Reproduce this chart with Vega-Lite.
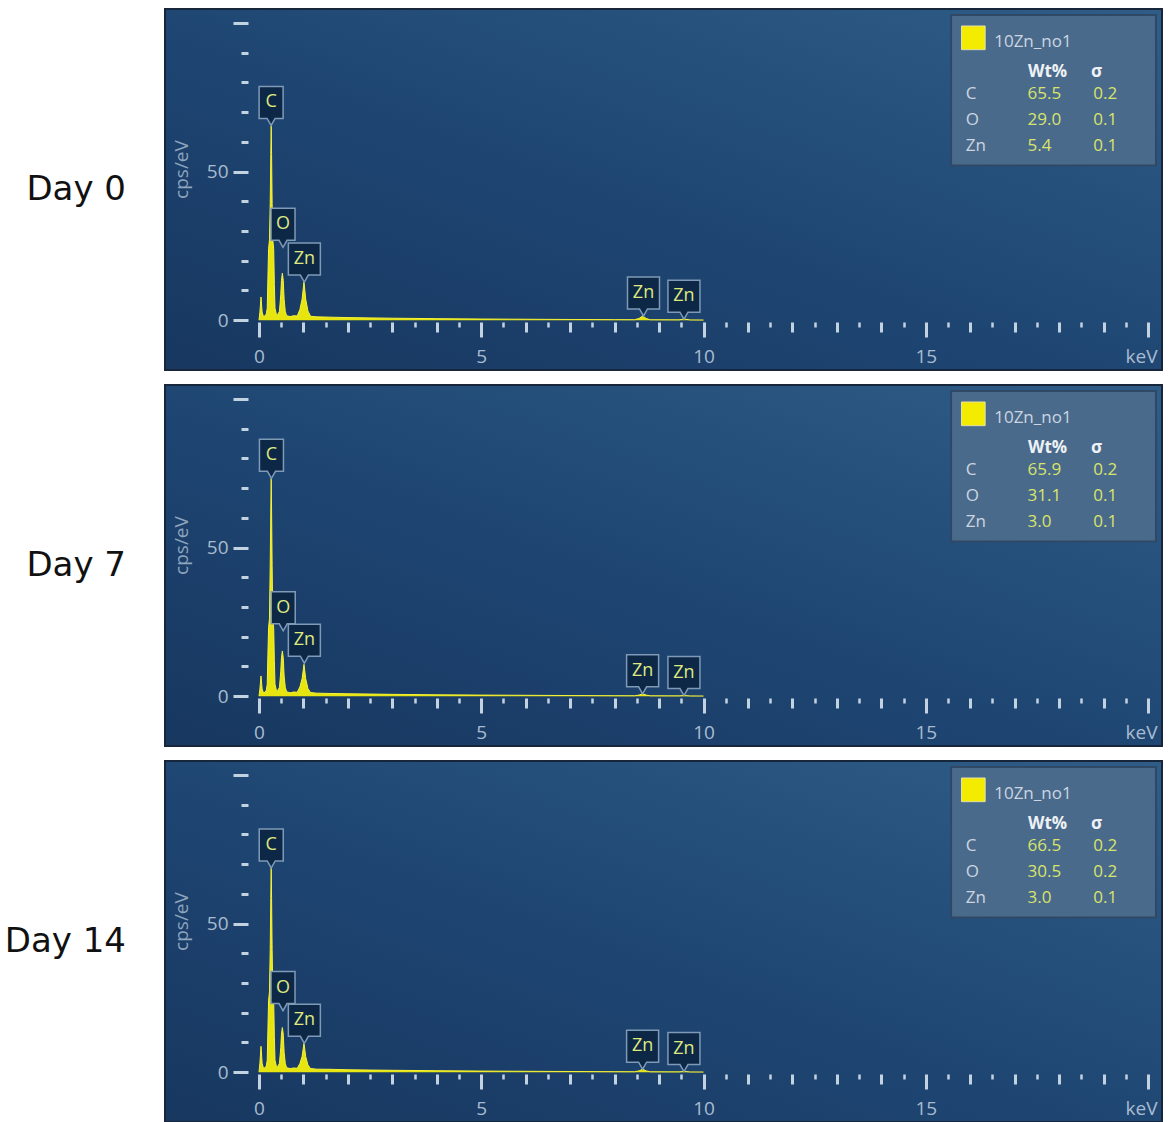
{
  "$schema": "https://vega.github.io/schema/vega-lite/v6.json",
  "background": "white",
  "padding": {"left": 4, "top": 8, "right": 4, "bottom": 0},
  "data": {"values": [
    {"k":"leg","day":"Day 0","sample":"10Zn_no1"},
    {"k":"leg","day":"Day 7","sample":"10Zn_no1"},
    {"k":"leg","day":"Day 14","sample":"10Zn_no1"},
    {"k":"t","day":"Day 0","el":"C","wt":65.5,"sg":0.2},
    {"k":"t","day":"Day 0","el":"O","wt":29.0,"sg":0.1},
    {"k":"t","day":"Day 0","el":"Zn","wt":5.4,"sg":0.1},
    {"k":"t","day":"Day 7","el":"C","wt":65.9,"sg":0.2},
    {"k":"t","day":"Day 7","el":"O","wt":31.1,"sg":0.1},
    {"k":"t","day":"Day 7","el":"Zn","wt":3.0,"sg":0.1},
    {"k":"t","day":"Day 14","el":"C","wt":66.5,"sg":0.2},
    {"k":"t","day":"Day 14","el":"O","wt":30.5,"sg":0.2},
    {"k":"t","day":"Day 14","el":"Zn","wt":3.0,"sg":0.1},
    {"k":"p","day":"Day 0","el":"C","e":0.272,"c":65.5},
    {"k":"p","day":"Day 0","el":"O","e":0.54,"c":24.5},
    {"k":"p","day":"Day 0","el":"Zn","e":1.02,"c":12.8},
    {"k":"p","day":"Day 0","el":"Zn","e":8.65,"c":1.4},
    {"k":"p","day":"Day 0","el":"Zn","e":9.56,"c":0.3},
    {"k":"p","day":"Day 7","el":"C","e":0.28,"c":73.3},
    {"k":"p","day":"Day 7","el":"O","e":0.545,"c":22},
    {"k":"p","day":"Day 7","el":"Zn","e":1.02,"c":11.1},
    {"k":"p","day":"Day 7","el":"Zn","e":8.63,"c":0.8},
    {"k":"p","day":"Day 7","el":"Zn","e":9.56,"c":0.2},
    {"k":"p","day":"Day 14","el":"C","e":0.275,"c":68.7},
    {"k":"p","day":"Day 14","el":"O","e":0.54,"c":20.7},
    {"k":"p","day":"Day 14","el":"Zn","e":1.02,"c":9.7},
    {"k":"p","day":"Day 14","el":"Zn","e":8.63,"c":1.0},
    {"k":"p","day":"Day 14","el":"Zn","e":9.56,"c":0.2},
    {"k":"s","day":"Day 0","e":0,"c":0},{"k":"s","day":"Day 0","e":0.02,"c":2.7},{"k":"s","day":"Day 0","e":0.045,"c":7.8},{"k":"s","day":"Day 0","e":0.07,"c":2.7},{"k":"s","day":"Day 0","e":0.1,"c":1.2},{"k":"s","day":"Day 0","e":0.14,"c":1.5},{"k":"s","day":"Day 0","e":0.165,"c":2.2},{"k":"s","day":"Day 0","e":0.185,"c":4},{"k":"s","day":"Day 0","e":0.2,"c":14},{"k":"s","day":"Day 0","e":0.215,"c":24},{"k":"s","day":"Day 0","e":0.235,"c":27},{"k":"s","day":"Day 0","e":0.252,"c":39.3},{"k":"s","day":"Day 0","e":0.265,"c":55.7},{"k":"s","day":"Day 0","e":0.274,"c":65.5},{"k":"s","day":"Day 0","e":0.283,"c":55.7},{"k":"s","day":"Day 0","e":0.295,"c":39.3},{"k":"s","day":"Day 0","e":0.31,"c":27},{"k":"s","day":"Day 0","e":0.33,"c":24},{"k":"s","day":"Day 0","e":0.345,"c":12},{"k":"s","day":"Day 0","e":0.36,"c":4},{"k":"s","day":"Day 0","e":0.39,"c":2},{"k":"s","day":"Day 0","e":0.42,"c":1.8},{"k":"s","day":"Day 0","e":0.46,"c":3},{"k":"s","day":"Day 0","e":0.49,"c":8.7},{"k":"s","day":"Day 0","e":0.505,"c":13.4},{"k":"s","day":"Day 0","e":0.525,"c":15.8},{"k":"s","day":"Day 0","e":0.545,"c":13.4},{"k":"s","day":"Day 0","e":0.565,"c":7},{"k":"s","day":"Day 0","e":0.59,"c":3},{"k":"s","day":"Day 0","e":0.62,"c":1.5},{"k":"s","day":"Day 0","e":0.7,"c":1.2},{"k":"s","day":"Day 0","e":0.78,"c":1.5},{"k":"s","day":"Day 0","e":0.86,"c":1.4},{"k":"s","day":"Day 0","e":0.92,"c":3.6},{"k":"s","day":"Day 0","e":0.97,"c":7.1},{"k":"s","day":"Day 0","e":1.012,"c":12.9},{"k":"s","day":"Day 0","e":1.05,"c":7.1},{"k":"s","day":"Day 0","e":1.1,"c":3.1},{"k":"s","day":"Day 0","e":1.16,"c":1.3},{"k":"s","day":"Day 0","e":1.3,"c":1.1},{"k":"s","day":"Day 0","e":1.6,"c":1.0},{"k":"s","day":"Day 0","e":2,"c":0.85},{"k":"s","day":"Day 0","e":2.5,"c":0.75},{"k":"s","day":"Day 0","e":3,"c":0.65},{"k":"s","day":"Day 0","e":4,"c":0.5},{"k":"s","day":"Day 0","e":5,"c":0.38},{"k":"s","day":"Day 0","e":6,"c":0.3},{"k":"s","day":"Day 0","e":7,"c":0.22},{"k":"s","day":"Day 0","e":8,"c":0.17},{"k":"s","day":"Day 0","e":8.45,"c":0.15},{"k":"s","day":"Day 0","e":8.55,"c":0.56},{"k":"s","day":"Day 0","e":8.63,"c":1.4},{"k":"s","day":"Day 0","e":8.71,"c":0.56},{"k":"s","day":"Day 0","e":8.8,"c":0.13},{"k":"s","day":"Day 0","e":9.45,"c":0.1},{"k":"s","day":"Day 0","e":9.57,"c":0.35},{"k":"s","day":"Day 0","e":9.7,"c":0.08},{"k":"s","day":"Day 0","e":10,"c":0.05},
    {"k":"s","day":"Day 7","e":0,"c":0},{"k":"s","day":"Day 7","e":0.02,"c":2.4},{"k":"s","day":"Day 7","e":0.045,"c":6.8},{"k":"s","day":"Day 7","e":0.07,"c":2.4},{"k":"s","day":"Day 7","e":0.1,"c":1.1},{"k":"s","day":"Day 7","e":0.14,"c":1.4},{"k":"s","day":"Day 7","e":0.165,"c":2.0},{"k":"s","day":"Day 7","e":0.185,"c":4},{"k":"s","day":"Day 7","e":0.2,"c":14},{"k":"s","day":"Day 7","e":0.215,"c":23},{"k":"s","day":"Day 7","e":0.235,"c":26},{"k":"s","day":"Day 7","e":0.252,"c":44},{"k":"s","day":"Day 7","e":0.265,"c":62.3},{"k":"s","day":"Day 7","e":0.274,"c":73.3},{"k":"s","day":"Day 7","e":0.283,"c":62.3},{"k":"s","day":"Day 7","e":0.295,"c":44},{"k":"s","day":"Day 7","e":0.31,"c":26},{"k":"s","day":"Day 7","e":0.33,"c":23},{"k":"s","day":"Day 7","e":0.345,"c":12},{"k":"s","day":"Day 7","e":0.36,"c":4},{"k":"s","day":"Day 7","e":0.39,"c":2},{"k":"s","day":"Day 7","e":0.42,"c":1.8},{"k":"s","day":"Day 7","e":0.46,"c":3},{"k":"s","day":"Day 7","e":0.49,"c":8.4},{"k":"s","day":"Day 7","e":0.505,"c":12.9},{"k":"s","day":"Day 7","e":0.525,"c":15.2},{"k":"s","day":"Day 7","e":0.545,"c":12.9},{"k":"s","day":"Day 7","e":0.565,"c":6.8},{"k":"s","day":"Day 7","e":0.59,"c":3},{"k":"s","day":"Day 7","e":0.62,"c":1.5},{"k":"s","day":"Day 7","e":0.7,"c":1.1},{"k":"s","day":"Day 7","e":0.78,"c":1.4},{"k":"s","day":"Day 7","e":0.86,"c":1.3},{"k":"s","day":"Day 7","e":0.92,"c":3.1},{"k":"s","day":"Day 7","e":0.97,"c":5.9},{"k":"s","day":"Day 7","e":1.012,"c":10.7},{"k":"s","day":"Day 7","e":1.05,"c":5.9},{"k":"s","day":"Day 7","e":1.1,"c":2.6},{"k":"s","day":"Day 7","e":1.16,"c":1.2},{"k":"s","day":"Day 7","e":1.3,"c":1.0},{"k":"s","day":"Day 7","e":1.6,"c":0.9},{"k":"s","day":"Day 7","e":2,"c":0.8},{"k":"s","day":"Day 7","e":2.5,"c":0.7},{"k":"s","day":"Day 7","e":3,"c":0.6},{"k":"s","day":"Day 7","e":4,"c":0.45},{"k":"s","day":"Day 7","e":5,"c":0.35},{"k":"s","day":"Day 7","e":6,"c":0.28},{"k":"s","day":"Day 7","e":7,"c":0.2},{"k":"s","day":"Day 7","e":8,"c":0.15},{"k":"s","day":"Day 7","e":8.45,"c":0.13},{"k":"s","day":"Day 7","e":8.55,"c":0.35},{"k":"s","day":"Day 7","e":8.63,"c":0.8},{"k":"s","day":"Day 7","e":8.71,"c":0.35},{"k":"s","day":"Day 7","e":8.8,"c":0.12},{"k":"s","day":"Day 7","e":9.45,"c":0.09},{"k":"s","day":"Day 7","e":9.57,"c":0.2},{"k":"s","day":"Day 7","e":9.7,"c":0.07},{"k":"s","day":"Day 7","e":10,"c":0.05},
    {"k":"s","day":"Day 14","e":0,"c":0},{"k":"s","day":"Day 14","e":0.02,"c":3},{"k":"s","day":"Day 14","e":0.045,"c":8.7},{"k":"s","day":"Day 14","e":0.07,"c":3},{"k":"s","day":"Day 14","e":0.1,"c":1.3},{"k":"s","day":"Day 14","e":0.14,"c":1.5},{"k":"s","day":"Day 14","e":0.165,"c":2.2},{"k":"s","day":"Day 14","e":0.185,"c":4},{"k":"s","day":"Day 14","e":0.2,"c":14},{"k":"s","day":"Day 14","e":0.215,"c":24},{"k":"s","day":"Day 14","e":0.235,"c":27},{"k":"s","day":"Day 14","e":0.252,"c":41.3},{"k":"s","day":"Day 14","e":0.265,"c":58.5},{"k":"s","day":"Day 14","e":0.274,"c":68.8},{"k":"s","day":"Day 14","e":0.283,"c":58.5},{"k":"s","day":"Day 14","e":0.295,"c":41.3},{"k":"s","day":"Day 14","e":0.31,"c":27},{"k":"s","day":"Day 14","e":0.33,"c":24},{"k":"s","day":"Day 14","e":0.345,"c":12},{"k":"s","day":"Day 14","e":0.36,"c":4},{"k":"s","day":"Day 14","e":0.39,"c":2},{"k":"s","day":"Day 14","e":0.42,"c":1.8},{"k":"s","day":"Day 14","e":0.46,"c":3},{"k":"s","day":"Day 14","e":0.49,"c":8.3},{"k":"s","day":"Day 14","e":0.505,"c":12.8},{"k":"s","day":"Day 14","e":0.525,"c":15},{"k":"s","day":"Day 14","e":0.545,"c":12.8},{"k":"s","day":"Day 14","e":0.565,"c":6.7},{"k":"s","day":"Day 14","e":0.59,"c":3},{"k":"s","day":"Day 14","e":0.62,"c":1.5},{"k":"s","day":"Day 14","e":0.7,"c":1.2},{"k":"s","day":"Day 14","e":0.78,"c":1.4},{"k":"s","day":"Day 14","e":0.86,"c":1.3},{"k":"s","day":"Day 14","e":0.92,"c":2.9},{"k":"s","day":"Day 14","e":0.97,"c":5.3},{"k":"s","day":"Day 14","e":1.012,"c":9.7},{"k":"s","day":"Day 14","e":1.05,"c":5.3},{"k":"s","day":"Day 14","e":1.1,"c":2.4},{"k":"s","day":"Day 14","e":1.16,"c":1.2},{"k":"s","day":"Day 14","e":1.3,"c":1.0},{"k":"s","day":"Day 14","e":1.6,"c":0.95},{"k":"s","day":"Day 14","e":2,"c":0.8},{"k":"s","day":"Day 14","e":2.5,"c":0.7},{"k":"s","day":"Day 14","e":3,"c":0.62},{"k":"s","day":"Day 14","e":4,"c":0.48},{"k":"s","day":"Day 14","e":5,"c":0.36},{"k":"s","day":"Day 14","e":6,"c":0.28},{"k":"s","day":"Day 14","e":7,"c":0.21},{"k":"s","day":"Day 14","e":8,"c":0.16},{"k":"s","day":"Day 14","e":8.45,"c":0.14},{"k":"s","day":"Day 14","e":8.55,"c":0.42},{"k":"s","day":"Day 14","e":8.63,"c":1.0},{"k":"s","day":"Day 14","e":8.71,"c":0.42},{"k":"s","day":"Day 14","e":8.8,"c":0.12},{"k":"s","day":"Day 14","e":9.45,"c":0.09},{"k":"s","day":"Day 14","e":9.57,"c":0.25},{"k":"s","day":"Day 14","e":9.7,"c":0.07},{"k":"s","day":"Day 14","e":10,"c":0.05}
  ]},
  "facet": {
    "row": {
      "field": "day", "type": "nominal", "sort": ["Day 0", "Day 7", "Day 14"], "title": null,
      "header": {"labelAngle": 0, "labelAlign": "left", "labelBaseline": "middle", "labelFont": "DejaVu Sans", "labelFontSize": 34, "labelColor": "#111111", "labelPadding": 38}
    }
  },
  "spacing": {"row": 13},
  "resolve": {"axis": {"x": "independent", "y": "independent"}},
  "spec": {
    "width": 997,
    "height": 361,
    "resolve": {"scale": {"y": "independent"}},
    "layer": [
      {
        "layer": [
          {
            "transform": [{"filter": "datum.k === 'leg'"}],
            "mark": {"type": "rect", "fill": "#4a6a8b", "stroke": "#2e4866", "strokeWidth": 2},
            "encoding": {
              "x": {"datum": 15.57}, "x2": {"datum": 20.18},
              "y": {"datum": 102.7}, "y2": {"datum": 52.0}
            }
          },
          {
            "transform": [{"filter": "datum.k === 's'"}],
            "mark": {"type": "area", "color": "#f2ee0c", "opacity": 0.95, "interpolate": "linear", "line": {"color": "#f6f23a", "strokeWidth": 1}},
            "encoding": {
              "x": {
                "field": "e", "type": "quantitative",
                "scale": {"domain": [-2.115, 20.315], "nice": false, "zero": false},
                "axis": {
                  "values": [0,0.5,1,1.5,2,2.5,3,3.5,4,4.5,5,5.5,6,6.5,7,7.5,8,8.5,9,9.5,10,10.5,11,11.5,12,12.5,13,13.5,14,14.5,15,15.5,16,16.5,17,17.5,18,18.5,19,19.5,20],
                  "tickCount": 200,
                  "offset": -48, "domain": false, "grid": false, "title": null,
                  "tickColor": "#c3d2e1",
                  "tickSize": {"condition": [{"test": "datum.value % 5 === 0", "value": 15}, {"test": "datum.value % 1 === 0", "value": 10}], "value": 5},
                  "tickWidth": {"condition": {"test": "datum.value % 1 === 0", "value": 3}, "value": 2.5},
                  "labelExpr": "datum.value === 20 ? 'keV' : (datum.value % 5 === 0 ? format(datum.value, 'd') : '')",
                  "labelOffset": {"condition": {"test": "datum.value === 20", "value": -7}, "value": 0},
                  "labelPadding": 10, "labelFontSize": 19, "labelFont": "Open Sans", "labelColor": "#a9bccf",
                  "labelFlush": false, "labelOverlap": false, "labelBound": false
                }
              },
              "y": {
                "field": "c", "type": "quantitative",
                "scale": {"domain": [-16.78, 104.7], "nice": false, "zero": false},
                "axis": {
                  "values": [0,10,20,30,40,50,60,70,80,90,100],
                  "tickCount": 200,
                  "offset": -83, "domain": false, "grid": false,
                  "tickColor": "#c3d2e1",
                  "tickSize": {"condition": {"test": "datum.value % 50 === 0", "value": 15}, "value": 7},
                  "tickWidth": 3,
                  "labelExpr": "datum.value === 0 || datum.value === 50 ? format(datum.value, 'd') : ''",
                  "labelPadding": 5, "labelFontSize": 19, "labelFont": "Open Sans", "labelColor": "#a9bccf",
                  "labelFlush": false, "labelOverlap": false, "labelBound": false,
                  "title": "cps/eV", "titleFont": "Open Sans", "titleFontSize": 19, "titleFontWeight": "normal",
                  "titleColor": "#8ea5bd", "titleX": -57, "titleY": 160, "titleAngle": -90, "titleBaseline": "bottom", "titleAlign": "center"
                }
              },
              "y2": {"datum": 0}
            }
          },
          {
            "transform": [{"filter": "datum.k === 'p'"}],
            "mark": {"type": "point", "filled": true, "fill": "#0d2747", "stroke": "#7f9ab6", "strokeWidth": 1.5, "opacity": 1, "size": 4},
            "encoding": {
              "x": {"field": "e", "type": "quantitative"},
              "y": {"field": "c", "type": "quantitative"},
              "shape": {"field": "el", "type": "nominal", "legend": null,
                "scale": {"domain": ["C", "O", "Zn"], "range": ["M-12,-39H12V-7H4L0,0L-4,-7H-12Z", "M-12,-39H12V-7H4L0,0L-4,-7H-12Z", "M-16,-39H16V-7H4L0,0L-4,-7H-16Z"]}}
            }
          },
          {
            "transform": [{"filter": "datum.k === 'p'"}],
            "mark": {"type": "text", "dy": -23, "font": "Open Sans", "fontSize": 18, "color": "#dfe97e", "baseline": "middle", "align": "center"},
            "encoding": {
              "x": {"field": "e", "type": "quantitative"},
              "y": {"field": "c", "type": "quantitative"},
              "text": {"field": "el"}
            }
          },
          {
            "transform": [{"filter": "datum.k === 'leg'"}],
            "mark": {"type": "point", "shape": "square", "filled": true, "fill": "#f4ec00", "stroke": "#e2e2a8", "strokeWidth": 1, "opacity": 1, "size": 560},
            "encoding": {"x": {"datum": 16.07}, "y": {"datum": 95.0}}
          },
          {
            "transform": [{"filter": "datum.k === 'leg'"}],
            "mark": {"type": "text", "font": "Open Sans", "fontSize": 17, "color": "#cbd6e1", "align": "left", "baseline": "middle"},
            "encoding": {"x": {"datum": 16.54}, "y": {"datum": 93.6}, "text": {"field": "sample"}}
          },
          {
            "transform": [{"filter": "datum.k === 'leg'"}],
            "mark": {"type": "text", "font": "Open Sans", "fontSize": 17, "fontWeight": "bold", "color": "#eef2f6", "align": "left", "baseline": "middle"},
            "encoding": {"x": {"datum": 17.3}, "y": {"datum": 83.6}, "text": {"value": "Wt%"}}
          },
          {
            "transform": [{"filter": "datum.k === 'leg'"}],
            "mark": {"type": "text", "font": "Open Sans", "fontSize": 17, "fontWeight": "bold", "color": "#eef2f6", "align": "left", "baseline": "middle"},
            "encoding": {"x": {"datum": 18.72}, "y": {"datum": 83.6}, "text": {"value": "σ"}}
          }
        ]
      },
      {
        "transform": [{"filter": "datum.k === 't'"}],
        "encoding": {
          "y": {"field": "el", "type": "nominal", "axis": null,
            "scale": {"type": "point", "domain": ["C", "O", "Zn"], "range": [85, 137], "padding": 0}}
        },
        "layer": [
          {
            "mark": {"type": "text", "font": "Open Sans", "fontSize": 17, "color": "#cbd6e1", "align": "left", "baseline": "middle"},
            "encoding": {"x": {"datum": 15.9}, "text": {"field": "el"}}
          },
          {
            "mark": {"type": "text", "font": "Open Sans", "fontSize": 17, "color": "#d8e46c", "align": "left", "baseline": "middle"},
            "encoding": {"x": {"datum": 17.29}, "text": {"field": "wt", "type": "quantitative", "format": ".1f"}}
          },
          {
            "mark": {"type": "text", "font": "Open Sans", "fontSize": 17, "color": "#d8e46c", "align": "left", "baseline": "middle"},
            "encoding": {"x": {"datum": 18.77}, "text": {"field": "sg", "type": "quantitative", "format": ".1f"}}
          }
        ]
      }
    ]
  },
  "config": {
    "view": {
      "stroke": "#17263a", "strokeWidth": 2,
      "fill": {"gradient": "linear", "x1": 0, "y1": 1, "x2": 1, "y2": 0, "stops": [{"offset": 0, "color": "#17375f"}, {"offset": 0.45, "color": "#1e4572"}, {"offset": 1, "color": "#2f5d88"}]}
    }
  }
}
